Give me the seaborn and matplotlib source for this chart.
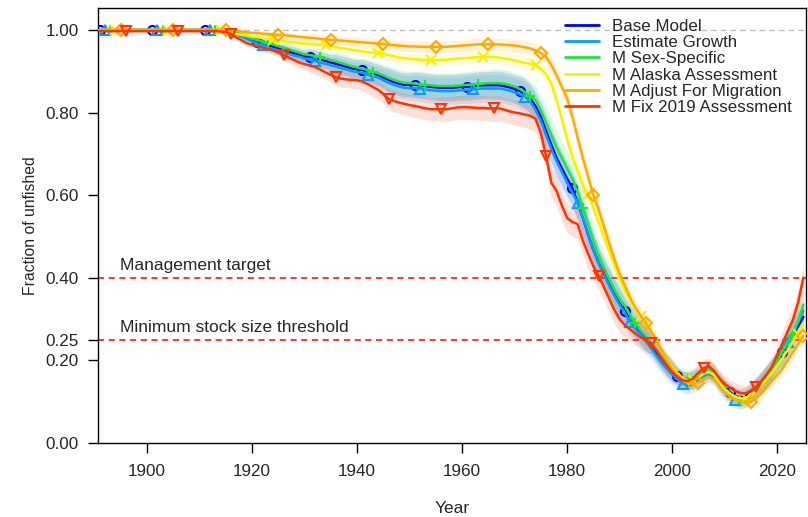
import numpy as np
import pandas as pd
import matplotlib.pyplot as plt
import seaborn as sns
from matplotlib.lines import Line2D

years = list(range(1891, 2026))

base_model = ([1.000] * 20 +
    [1.000, 1.000, 1.000, 1.000, 0.999, 0.996, 0.991, 0.986, 0.981, 0.976,
     0.971, 0.967, 0.963, 0.959, 0.955, 0.951, 0.947, 0.944, 0.940, 0.937,
     0.935, 0.932, 0.928, 0.925, 0.921, 0.918, 0.914, 0.911, 0.907, 0.905,
     0.903, 0.899, 0.895, 0.891, 0.885, 0.879, 0.874, 0.870, 0.867, 0.867,
     0.867, 0.866, 0.864, 0.862, 0.861, 0.860, 0.860, 0.860, 0.861, 0.862,
     0.862, 0.864, 0.865, 0.866, 0.866, 0.866, 0.866, 0.864, 0.861, 0.857,
     0.852, 0.845, 0.834, 0.815, 0.790, 0.755, 0.722, 0.690, 0.665, 0.640,
     0.618, 0.582, 0.545, 0.505, 0.468, 0.437, 0.410, 0.385, 0.360, 0.338,
     0.320, 0.302, 0.285, 0.270, 0.255, 0.238, 0.220, 0.203, 0.188, 0.175,
     0.162, 0.153, 0.150, 0.152, 0.160, 0.170, 0.175, 0.167, 0.148, 0.133,
     0.123, 0.113, 0.110, 0.114, 0.123, 0.134, 0.148, 0.163, 0.180, 0.200,
     0.220, 0.242, 0.262, 0.283, 0.305])

estimate_growth = ([1.000] * 20 +
    [1.000, 1.000, 1.000, 1.000, 0.998, 0.995, 0.990, 0.984, 0.978, 0.972,
     0.967, 0.963, 0.958, 0.954, 0.950, 0.946, 0.942, 0.938, 0.935, 0.931,
     0.928, 0.925, 0.921, 0.918, 0.914, 0.911, 0.907, 0.904, 0.900, 0.898,
     0.896, 0.892, 0.888, 0.884, 0.878, 0.872, 0.867, 0.863, 0.860, 0.859,
     0.859, 0.858, 0.856, 0.854, 0.853, 0.852, 0.852, 0.852, 0.853, 0.854,
     0.855, 0.856, 0.857, 0.858, 0.858, 0.858, 0.858, 0.856, 0.853, 0.849,
     0.844, 0.838, 0.826, 0.806, 0.780, 0.745, 0.712, 0.682, 0.656, 0.630,
     0.606, 0.582, 0.546, 0.506, 0.468, 0.436, 0.408, 0.382, 0.357, 0.335,
     0.315, 0.292, 0.276, 0.261, 0.246, 0.229, 0.211, 0.194, 0.179, 0.166,
     0.154, 0.144, 0.140, 0.143, 0.152, 0.162, 0.167, 0.160, 0.140, 0.124,
     0.114, 0.105, 0.102, 0.106, 0.116, 0.128, 0.143, 0.160, 0.178, 0.199,
     0.221, 0.244, 0.267, 0.292, 0.320])

m_sex_specific = ([1.000] * 20 +
    [1.000, 1.000, 1.000, 1.000, 1.000, 0.998, 0.994, 0.989, 0.984, 0.979,
     0.975, 0.972, 0.969, 0.965, 0.961, 0.957, 0.953, 0.949, 0.945, 0.941,
     0.939, 0.937, 0.934, 0.931, 0.927, 0.924, 0.920, 0.916, 0.912, 0.909,
     0.906, 0.903, 0.899, 0.895, 0.890, 0.884, 0.879, 0.875, 0.872, 0.871,
     0.870, 0.869, 0.867, 0.866, 0.865, 0.864, 0.864, 0.864, 0.865, 0.866,
     0.867, 0.868, 0.869, 0.870, 0.871, 0.871, 0.871, 0.870, 0.867, 0.863,
     0.857, 0.849, 0.840, 0.830, 0.805, 0.775, 0.745, 0.715, 0.690, 0.665,
     0.640, 0.608, 0.570, 0.530, 0.490, 0.455, 0.425, 0.398, 0.372, 0.350,
     0.332, 0.310, 0.290, 0.272, 0.258, 0.242, 0.225, 0.208, 0.192, 0.178,
     0.166, 0.158, 0.156, 0.158, 0.165, 0.175, 0.178, 0.170, 0.150, 0.133,
     0.120, 0.110, 0.105, 0.108, 0.118, 0.130, 0.145, 0.162, 0.180, 0.200,
     0.222, 0.244, 0.262, 0.295, 0.335])

m_alaska = ([1.000] * 20 +
    [1.000, 1.000, 1.000, 1.000, 0.998, 0.992, 0.990, 0.988, 0.986, 0.984,
     0.982, 0.980, 0.978, 0.976, 0.975, 0.973, 0.971, 0.970, 0.968, 0.967,
     0.966, 0.965, 0.964, 0.963, 0.961, 0.958, 0.956, 0.954, 0.952, 0.950,
     0.948, 0.946, 0.945, 0.944, 0.942, 0.939, 0.936, 0.933, 0.931, 0.930,
     0.929, 0.928, 0.927, 0.927, 0.927, 0.927, 0.928, 0.929, 0.930, 0.931,
     0.932, 0.933, 0.934, 0.935, 0.935, 0.934, 0.933, 0.931, 0.929, 0.926,
     0.923, 0.920, 0.918, 0.915, 0.905, 0.892, 0.870, 0.830, 0.785, 0.735,
     0.693, 0.660, 0.625, 0.600, 0.570, 0.535, 0.500, 0.465, 0.430, 0.398,
     0.370, 0.345, 0.325, 0.308, 0.295, 0.272, 0.248, 0.224, 0.203, 0.184,
     0.170, 0.158, 0.150, 0.152, 0.158, 0.168, 0.172, 0.165, 0.145, 0.130,
     0.120, 0.112, 0.108, 0.108, 0.115, 0.125, 0.140, 0.155, 0.170, 0.188,
     0.205, 0.225, 0.245, 0.265, 0.290])

m_migration = ([1.000] * 20 +
    [1.000, 1.000, 1.000, 1.000, 1.000, 0.999, 0.998, 0.996, 0.994, 0.993,
     0.992, 0.991, 0.990, 0.989, 0.988, 0.987, 0.986, 0.985, 0.983, 0.982,
     0.981, 0.980, 0.978, 0.977, 0.976, 0.975, 0.974, 0.973, 0.972, 0.971,
     0.970, 0.969, 0.968, 0.967, 0.966, 0.964, 0.963, 0.962, 0.961, 0.960,
     0.960, 0.959, 0.959, 0.959, 0.959, 0.959, 0.959, 0.960, 0.961, 0.962,
     0.963, 0.964, 0.965, 0.965, 0.965, 0.965, 0.965, 0.964, 0.963, 0.962,
     0.960, 0.958, 0.955, 0.950, 0.944, 0.935, 0.915, 0.890, 0.862, 0.835,
     0.790, 0.740, 0.690, 0.645, 0.600, 0.565, 0.525, 0.485, 0.445, 0.410,
     0.380, 0.352, 0.328, 0.308, 0.290, 0.270, 0.250, 0.225, 0.200, 0.180,
     0.165, 0.152, 0.145, 0.143, 0.146, 0.155, 0.160, 0.155, 0.138, 0.122,
     0.112, 0.105, 0.100, 0.099, 0.100, 0.108, 0.120, 0.135, 0.150, 0.165,
     0.180, 0.200, 0.220, 0.240, 0.260])

m_fix_2019 = ([0.997] * 20 +
    [0.997, 0.997, 0.997, 0.996, 0.995, 0.990, 0.982, 0.975, 0.968, 0.964,
     0.960, 0.957, 0.954, 0.950, 0.945, 0.939, 0.933, 0.927, 0.921, 0.917,
     0.914, 0.910, 0.904, 0.897, 0.891, 0.885, 0.882, 0.880, 0.879, 0.878,
     0.875, 0.869, 0.862, 0.855, 0.845, 0.833, 0.828, 0.824, 0.821, 0.818,
     0.816, 0.813, 0.810, 0.808, 0.808, 0.808, 0.808, 0.810, 0.812, 0.813,
     0.813, 0.812, 0.811, 0.811, 0.810, 0.810, 0.810, 0.807, 0.803, 0.800,
     0.798, 0.795, 0.792, 0.785, 0.750, 0.695, 0.630, 0.610, 0.575, 0.545,
     0.535, 0.530, 0.490, 0.458, 0.428, 0.405, 0.378, 0.350, 0.322, 0.300,
     0.285, 0.275, 0.265, 0.256, 0.248, 0.241, 0.225, 0.205, 0.188, 0.172,
     0.160, 0.152, 0.150, 0.156, 0.170, 0.181, 0.186, 0.174, 0.157, 0.143,
     0.134, 0.126, 0.121, 0.120, 0.127, 0.136, 0.150, 0.166, 0.184, 0.212,
     0.240, 0.270, 0.298, 0.340, 0.400])

# half-width of the uncertainty band, one value per 5-year block (1891-1895 ... 2021-2025)
band_wide = [0.002, 0.002, 0.002, 0.002, 0.003, 0.007, 0.011, 0.015, 0.019, 0.023,
             0.026, 0.029, 0.031, 0.032, 0.033, 0.034, 0.036, 0.042, 0.042, 0.038,
             0.032, 0.027, 0.022, 0.021, 0.021, 0.025, 0.032]
band_red = [0.002, 0.002, 0.002, 0.002, 0.003, 0.007, 0.010, 0.014, 0.017, 0.020,
            0.023, 0.026, 0.028, 0.029, 0.030, 0.030, 0.032, 0.036, 0.036, 0.033,
            0.028, 0.024, 0.021, 0.020, 0.020, 0.024, 0.032]
band_narrow = [0.002, 0.002, 0.002, 0.002, 0.002, 0.004, 0.006, 0.008, 0.010, 0.011,
               0.012, 0.013, 0.014, 0.014, 0.015, 0.015, 0.016, 0.020, 0.022, 0.020,
               0.018, 0.016, 0.014, 0.013, 0.013, 0.015, 0.018]

labels = ["Base Model", "Estimate Growth", "M Sex-Specific",
          "M Alaska Assessment", "M Adjust For Migration", "M Fix 2019 Assessment"]
values = [base_model, estimate_growth, m_sex_specific, m_alaska, m_migration, m_fix_2019]
bands = [band_wide, band_wide, band_wide, band_narrow, band_narrow, band_red]
colors = ["#0000EE", "#0A9BFA", "#22E33B", "#F8F000", "#FFAA00", "#FF3300"]
markers = ["o", "^", "+", "x", "D", "v"]

sns.set_style("ticks")
plt.rcParams['font.family'] = ['Liberation Sans', 'DejaVu Sans']

fig = plt.figure(figsize=(8.08, 5.17), dpi=100)
ax = fig.add_axes([98 / 808, 1 - 443 / 517, 708 / 808, 435 / 517])

ax.axhline(1.0, color="#BDBDBD", lw=1, ls=(0, (4, 3)), zorder=1)
ax.axhline(0.40, color="#FF0000", lw=1.1, ls=(0, (4, 3)), zorder=1)
ax.axhline(0.25, color="#FF0000", lw=1.1, ls=(0, (4, 3)), zorder=1)

yr = np.array(years)
for vals, band, col in zip(values, bands, colors):
    v = np.array(vals)
    hw = np.repeat(band, 5)
    ax.fill_between(yr, v - hw, v + hw, color=col, alpha=0.15, lw=0, zorder=2)

for i, (lab, vals, col, mk) in enumerate(zip(labels, values, colors, markers)):
    df = pd.DataFrame({"Year": years, "frac": vals})
    sns.lineplot(data=df, x="Year", y="frac", color=col, lw=1.8, ax=ax,
                 marker=mk, markevery=slice(i, None, 10), fillstyle="none",
                 markersize=6.5, markeredgecolor=col, markeredgewidth=1.5,
                 zorder=3 + i)

ax.text(1894.9, 0.412, "Management target", fontsize=12.5, va="bottom", ha="left")
ax.text(1894.9, 0.262, "Minimum stock size threshold", fontsize=12.5, va="bottom", ha="left")

ax.set_xlim(1890.67, 2025.5)
ax.set_ylim(0, 1.053)
ax.set_xticks([1900, 1920, 1940, 1960, 1980, 2000, 2020])
ax.set_yticks([0.0, 0.2, 0.25, 0.4, 0.6, 0.8, 1.0])
ax.set_yticklabels(["0.00", "0.20", "0.25", "0.40", "0.60", "0.80", "1.00"])
ax.tick_params(axis="both", labelsize=12.3, length=7, width=1, color="black")
ax.tick_params(axis="y", pad=7)
ax.tick_params(axis="x", pad=8)
for s in ax.spines.values():
    s.set_color("black")
    s.set_linewidth(1)

ax.set_xlabel("Year", fontsize=12.5, labelpad=16)
ax.set_ylabel("Fraction of unfished", fontsize=11.3, labelpad=5)

handles = [Line2D([], [], color=c, lw=2) for c in colors]
fig.legend(handles, labels, loc="upper left", bbox_to_anchor=(565 / 808, 1 - 19 / 517),
           frameon=False, fontsize=12.2, labelspacing=0.07, handlelength=2.0,
           handletextpad=0.8, borderpad=0, borderaxespad=0)

fig.savefig("out.png", dpi=100)
